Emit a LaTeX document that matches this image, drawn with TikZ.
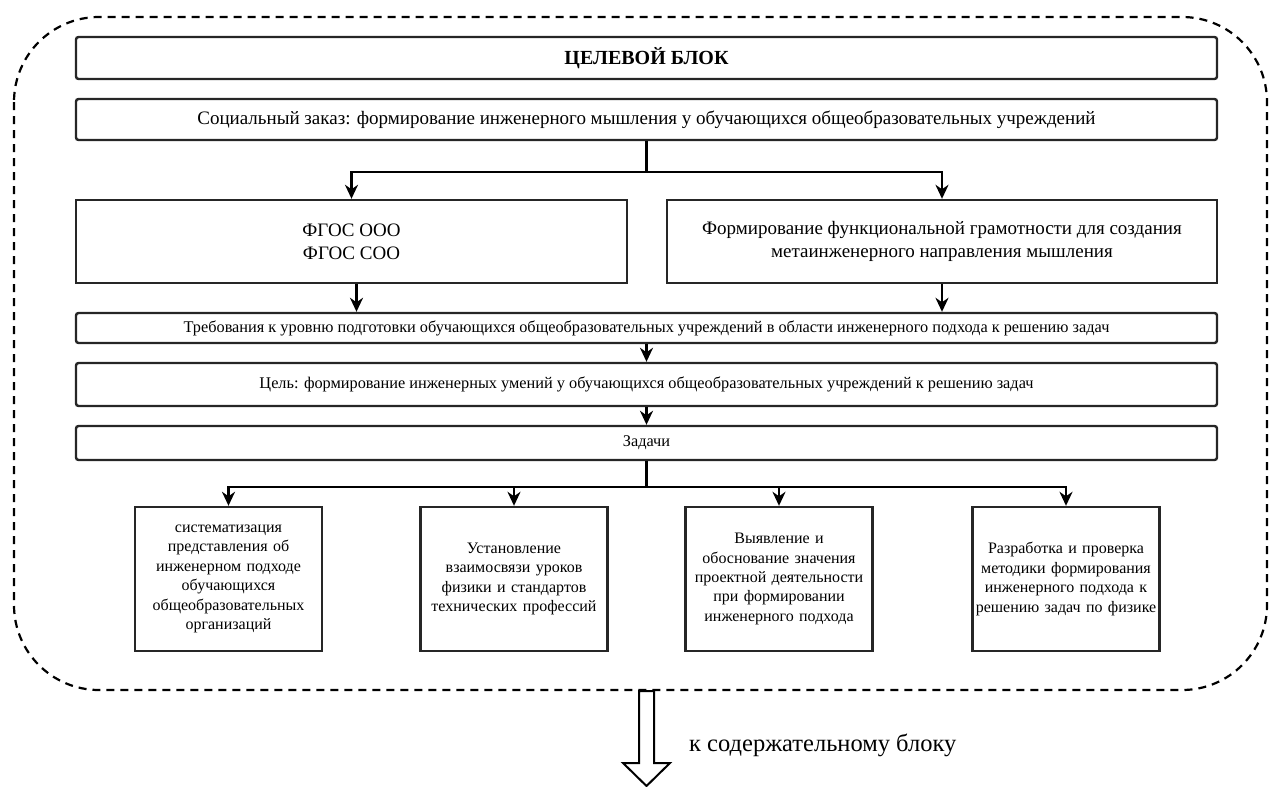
\documentclass[tikz,border=0pt]{standalone}
\usepackage{fontspec}
\setmainfont{Liberation Serif}
\usetikzlibrary{arrows.meta,calc}
\tikzset{
  box/.style={draw=black!85, line width=2.4pt, minimum width=1141pt, inner sep=2pt, align=center},
  fullbox/.style={box, rounded corners=2.5pt},
  midbox/.style={box, minimum width=551pt, minimum height=83pt, font=\fontsize{19}{23}\selectfont},
  taskbox/.style={box, minimum width=185pt, minimum height=144pt, text width=183pt, font=\fontsize{16}{19.4}\selectfont},
  arr/.style={line width=2.3pt, draw=black, -{Stealth[length=14pt,width=13pt,inset=4.5pt]}},
  conn/.style={line width=2.3pt, draw=black},
  boundary/.style={draw=black, line width=2.2pt, dash pattern=on 8pt off 6pt, rounded corners=85pt},
  blockarrow/.style={draw=black, line width=2pt, fill=white}
}
\begin{document}
\begin{tikzpicture}[x=1pt,y=-1pt]
\useasboundingbox (0,0) rectangle (1269,787);
\draw[boundary] (14,17) rectangle (1267,690);

\node[fullbox, minimum height=42pt, font=\fontsize{20}{24}\selectfont\bfseries] (title) at (646.5,58) {ЦЕЛЕВОЙ БЛОК};
\node[fullbox, minimum height=41pt, font=\fontsize{19}{23}\selectfont] (social) at (646.5,119.5) {Социальный заказ: формирование инженерного мышления у обучающихся общеобразовательных учреждений};

\node[midbox] (fgos) at (351.5,241.5) {ФГОС ООО\\ФГОС СОО};
\node[midbox, minimum width=550pt] (fgr) at (942,241.5) {Формирование функциональной грамотности для создания\\метаинженерного направления мышления};

\node[fullbox, minimum height=30pt, font=\fontsize{16.3}{19}\selectfont] (treb) at (646.5,328) {Требования к уровню подготовки обучающихся общеобразовательных учреждений в области инженерного подхода к решению задач};
\node[fullbox, minimum height=43pt, font=\fontsize{16.3}{19}\selectfont] (cel) at (646.5,384.5) {Цель: формирование инженерных умений у обучающихся общеобразовательных учреждений к решению задач};
\node[fullbox, minimum height=34pt, font=\fontsize{16.3}{19}\selectfont] (zad) at (646.5,443) {Задачи};

\node[taskbox] (t1) at (228.5,579) {систематизация\\представления об\\инженерном подходе\\обучающихся\\общеобразовательных\\организаций};
\node[taskbox] (t2) at (514,579) {Установление\\взаимосвязи уроков\\физики и стандартов\\технических профессий};
\node[taskbox] (t3) at (779,579) {Выявление и\\обоснование значения\\проектной деятельности\\при формировании\\инженерного подхода};
\node[taskbox] (t4) at (1066,579) {Разработка и проверка\\методики формирования\\инженерного подхода к\\решению задач по физике};

% connectors
\draw[conn] (social.south) -- ++(0,30.5) coordinate (j1);
\draw[arr] (j1) -| (fgos.north);
\draw[arr] (j1) -| (fgr.north);
\draw[arr] ([xshift=5pt]fgos.south) -- ([xshift=5pt]fgos.south |- treb.north);
\draw[arr] (fgr.south) -- (fgr.south |- treb.north);
\draw[arr] (treb.south) -- (cel.north);
\draw[arr] (cel.south) -- (zad.north);
\draw[conn] (zad.south) -- ++(0,26) coordinate (j2);
\draw[arr] (j2) -| (t1.north);
\draw[arr] (j2) -| (t2.north);
\draw[arr] (j2) -| (t3.north);
\draw[arr] (j2) -| (t4.north);

% block arrow to next block
\coordinate (ba) at (646.5,691);
\draw[blockarrow] ($(ba)+(-7.5,0)$) -- ($(ba)+(-7.5,72)$) -- ($(ba)+(-23.5,72)$) -- ($(ba)+(0,95)$) -- ($(ba)+(23.5,72)$) -- ($(ba)+(7.5,72)$) -- ($(ba)+(7.5,0)$) -- cycle;
\node[anchor=west, inner sep=0pt, font=\fontsize{24.5}{28}\selectfont] (next) at (689,745) {к содержательному блоку};
\end{tikzpicture}
\end{document}
